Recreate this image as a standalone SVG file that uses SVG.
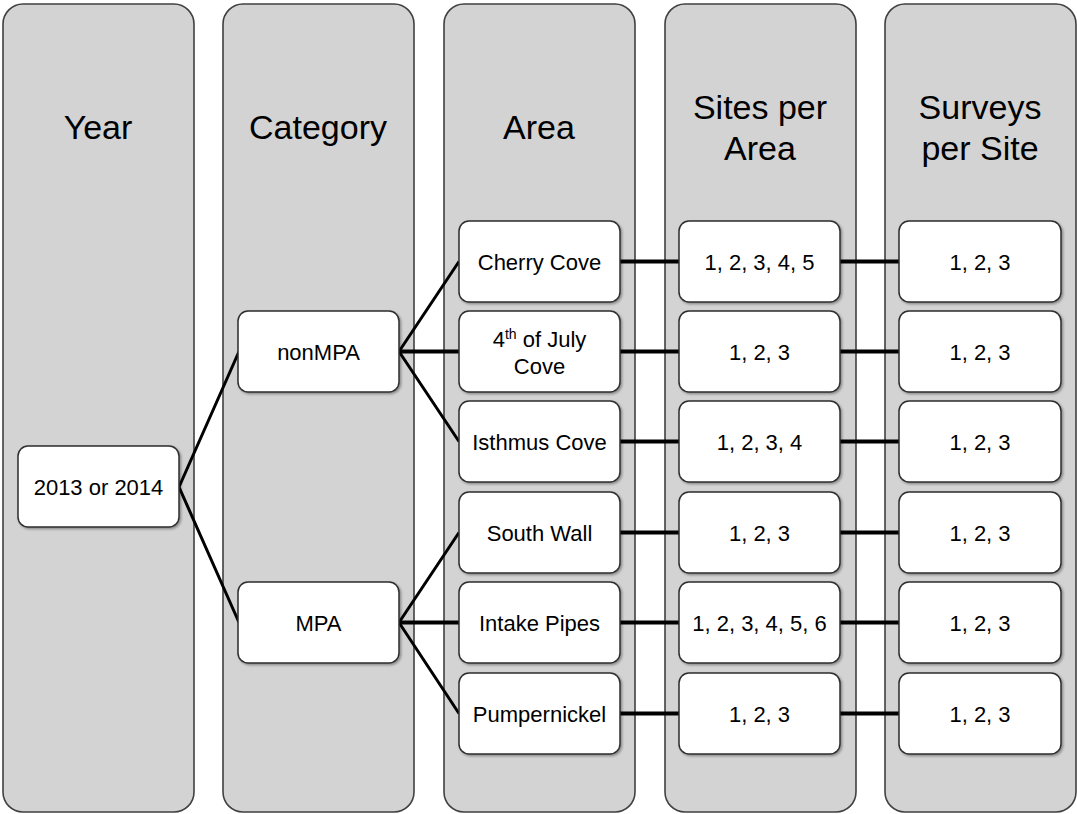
<svg xmlns="http://www.w3.org/2000/svg" width="1077" height="814" viewBox="0 0 1077 814">
<defs>
<filter id="sh" x="-10%" y="-10%" width="130%" height="130%">
<feDropShadow dx="1.5" dy="1.5" stdDeviation="1.2" flood-color="#000" flood-opacity="0.35"/>
</filter>
<style>
.col{fill:#d3d3d3;stroke:#404040;stroke-width:1.6}
.box{fill:#fff;stroke:#2e2e2e;stroke-width:1.5;filter:url(#sh)}
.t{font-family:"Liberation Sans",Arial,sans-serif;font-size:34px;fill:#000;text-anchor:middle}
.n{font-family:"Liberation Sans",Arial,sans-serif;font-size:22px;fill:#000;text-anchor:middle}
.d{stroke:#000;stroke-width:3;fill:none;stroke-linecap:butt}
.h{stroke:#000;stroke-width:4.2;fill:none}
</style>
</defs>
<g id="columns">
<g id="col-year"><rect class="col" x="3" y="4" width="191" height="808" rx="20"/><text class="t" x="98" y="139">Year</text></g>
<g id="col-category"><rect class="col" x="223" y="4" width="191" height="808" rx="20"/><text class="t" x="318" y="139">Category</text></g>
<g id="col-area"><rect class="col" x="444" y="4" width="191" height="808" rx="20"/><text class="t" x="539" y="139">Area</text></g>
<g id="col-sites"><rect class="col" x="665" y="4" width="191" height="808" rx="20"/><text class="t" x="760" y="119">Sites per</text><text class="t" x="760" y="160">Area</text></g>
<g id="col-surveys"><rect class="col" x="885" y="4" width="191" height="808" rx="20"/><text class="t" x="980" y="119">Surveys</text><text class="t" x="980" y="160">per Site</text></g>
</g>
<g id="connectors">
<path class="d" d="M179 487 L239 351.5 M179 487 L239 622.5"/>
<path class="d" d="M399 351.5 L459 261.5 M399 351.5 L459 441.5 M399 622.5 L459 532.5 M399 622.5 L459 713.5"/>
<path class="h" d="M399 351.5 H459 M399 622.5 H459"/>
<path class="h" d="M620 261.5 H679 M840 261.5 H899 M620 351.5 H679 M840 351.5 H899 M620 441.5 H679 M840 441.5 H899 M620 532.5 H679 M840 532.5 H899 M620 622.5 H679 M840 622.5 H899 M620 713.5 H679 M840 713.5 H899"/>
</g>
<g id="node-year"><rect class="box" x="18" y="446" width="161" height="81" rx="10"/><text class="n" x="98.5" y="494.5">2013 or 2014</text></g>
<g id="node-nonmpa"><rect class="box" x="238" y="311" width="161" height="81" rx="10"/><text class="n" x="318.5" y="359.5">nonMPA</text></g>
<g id="node-mpa"><rect class="box" x="238" y="582" width="161" height="81" rx="10"/><text class="n" x="318.5" y="630.5">MPA</text></g>
<g id="node-cherry"><rect class="box" x="459" y="221" width="161" height="81" rx="10"/><text class="n" x="539.5" y="269.5">Cherry Cove</text></g>
<g id="node-july"><rect class="box" x="459" y="311" width="161" height="81" rx="10"/><text class="n" x="539.5" y="347">4<tspan font-size="14" dy="-8">th</tspan><tspan dy="8"> of July</tspan></text><text class="n" x="539.5" y="373.5">Cove</text></g>
<g id="node-isthmus"><rect class="box" x="459" y="401" width="161" height="81" rx="10"/><text class="n" x="539.5" y="449.5">Isthmus Cove</text></g>
<g id="node-southwall"><rect class="box" x="459" y="492" width="161" height="81" rx="10"/><text class="n" x="539.5" y="540.5">South Wall</text></g>
<g id="node-intake"><rect class="box" x="459" y="582" width="161" height="81" rx="10"/><text class="n" x="539.5" y="630.5">Intake Pipes</text></g>
<g id="node-pumper"><rect class="box" x="459" y="673" width="161" height="81" rx="10"/><text class="n" x="539.5" y="721.5">Pumpernickel</text></g>
<g id="node-s1"><rect class="box" x="679" y="221" width="161" height="81" rx="10"/><text class="n" x="759.5" y="269.5">1, 2, 3, 4, 5</text></g>
<g id="node-s2"><rect class="box" x="679" y="311" width="161" height="81" rx="10"/><text class="n" x="759.5" y="359.5">1, 2, 3</text></g>
<g id="node-s3"><rect class="box" x="679" y="401" width="161" height="81" rx="10"/><text class="n" x="759.5" y="449.5">1, 2, 3, 4</text></g>
<g id="node-s4"><rect class="box" x="679" y="492" width="161" height="81" rx="10"/><text class="n" x="759.5" y="540.5">1, 2, 3</text></g>
<g id="node-s5"><rect class="box" x="679" y="582" width="161" height="81" rx="10"/><text class="n" x="759.5" y="630.5">1, 2, 3, 4, 5, 6</text></g>
<g id="node-s6"><rect class="box" x="679" y="673" width="161" height="81" rx="10"/><text class="n" x="759.5" y="721.5">1, 2, 3</text></g>
<g id="node-v1"><rect class="box" x="899" y="221" width="162" height="81" rx="10"/><text class="n" x="980" y="269.5">1, 2, 3</text></g>
<g id="node-v2"><rect class="box" x="899" y="311" width="162" height="81" rx="10"/><text class="n" x="980" y="359.5">1, 2, 3</text></g>
<g id="node-v3"><rect class="box" x="899" y="401" width="162" height="81" rx="10"/><text class="n" x="980" y="449.5">1, 2, 3</text></g>
<g id="node-v4"><rect class="box" x="899" y="492" width="162" height="81" rx="10"/><text class="n" x="980" y="540.5">1, 2, 3</text></g>
<g id="node-v5"><rect class="box" x="899" y="582" width="162" height="81" rx="10"/><text class="n" x="980" y="630.5">1, 2, 3</text></g>
<g id="node-v6"><rect class="box" x="899" y="673" width="162" height="81" rx="10"/><text class="n" x="980" y="721.5">1, 2, 3</text></g>
</svg>
